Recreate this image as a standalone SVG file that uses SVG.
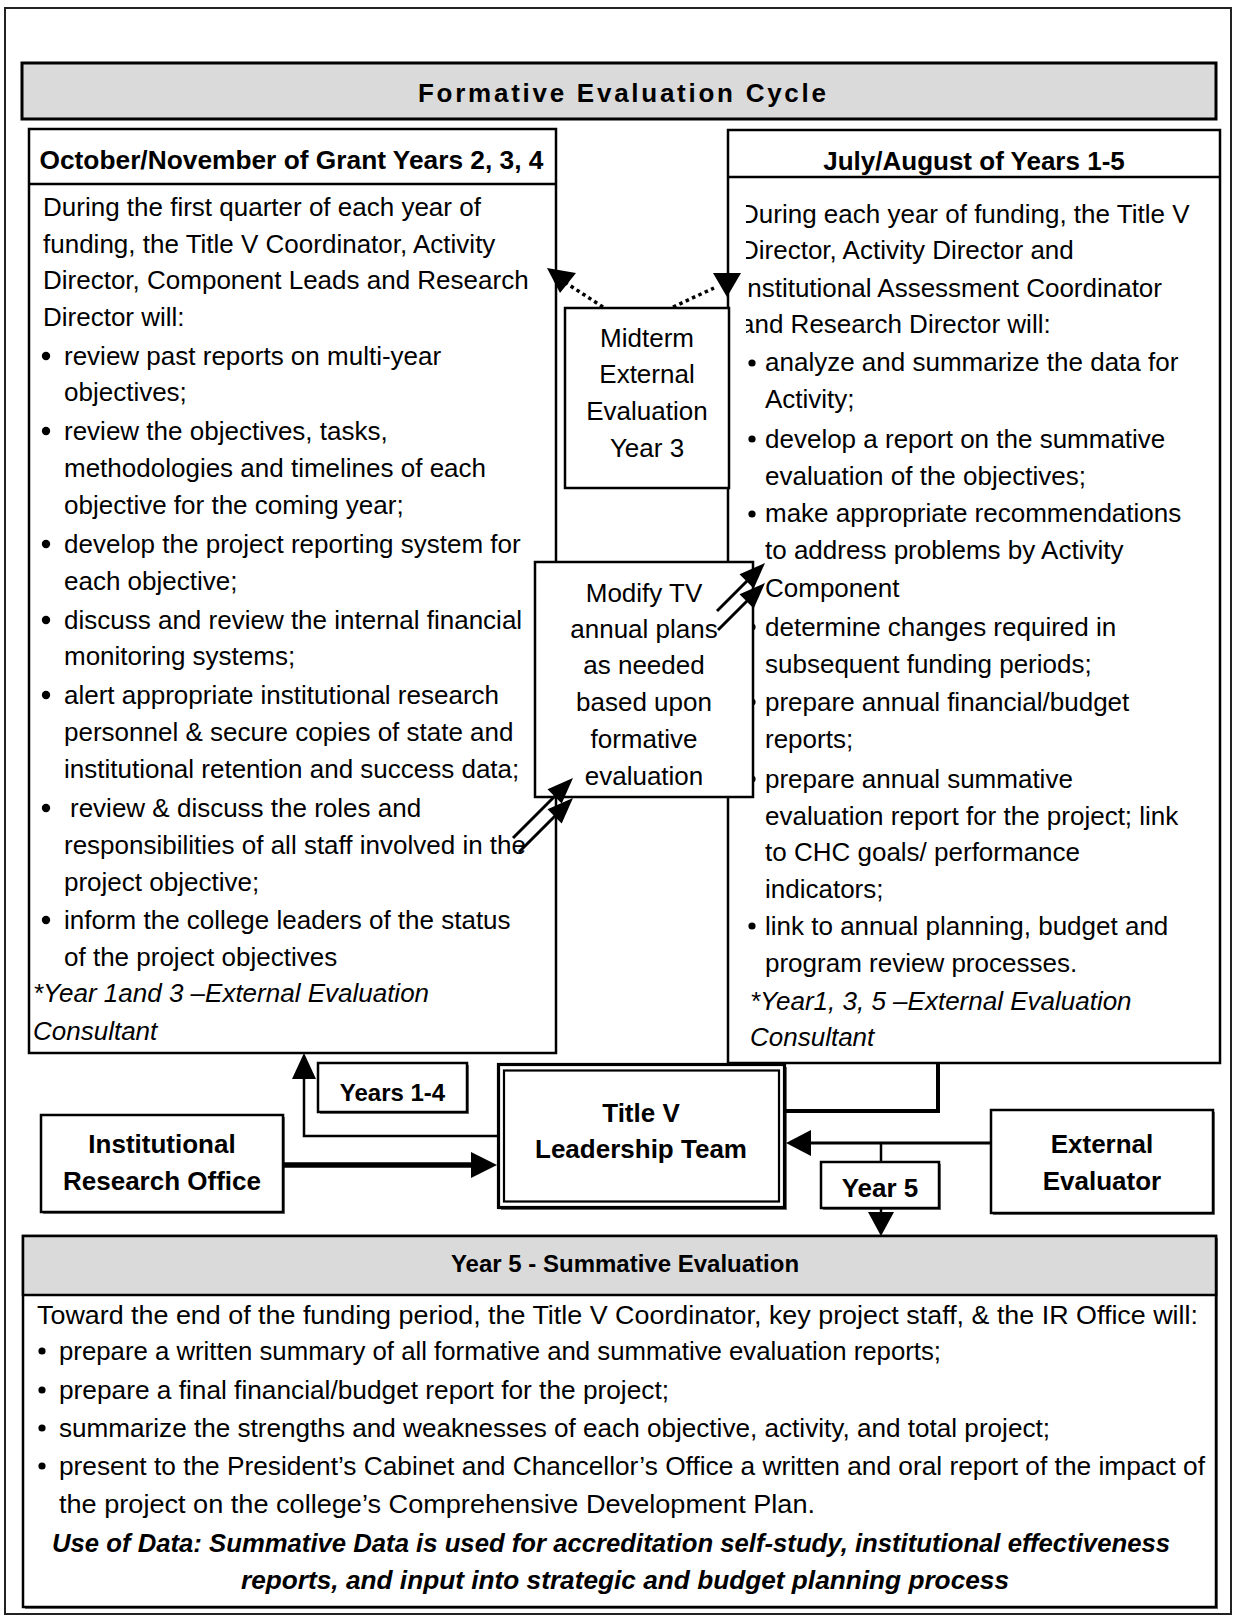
<svg xmlns="http://www.w3.org/2000/svg" width="1236" height="1619" viewBox="0 0 1236 1619">
<style>
.t{font-family:"Liberation Sans",Arial,Helvetica,sans-serif;font-size:26px;fill:#000}
.b{font-weight:bold}
.i{font-style:italic}
.c{text-anchor:middle}
.box{fill:#fff;stroke:#000;stroke-width:2.5}
.gray{fill:#dadada;stroke:#000;stroke-width:3}
.sh{fill:#777}
.ln{fill:none;stroke:#000;stroke-width:2.5}
.dot{fill:none;stroke:#000;stroke-width:3.5;stroke-dasharray:3.5 3.5}
.ah{fill:#000;stroke:none}
</style>
<defs>
<clipPath id="rclip"><rect x="746" y="178" width="472" height="884"/></clipPath>
</defs>
<rect x="5" y="8" width="1226" height="1606" fill="#fff" stroke="#222" stroke-width="2"/>

<g id="title">
<rect class="gray" x="22" y="63" width="1194" height="56"/>
<text class="t b" x="418" y="102" textLength="408" lengthAdjust="spacing">Formative Evaluation Cycle</text>
</g>

<g id="left-box">
<rect class="box" x="29" y="129" width="527" height="924"/>
<line class="ln" x1="29" y1="184" x2="556" y2="184"/>
<text class="t b" x="39.5" y="169" textLength="504" lengthAdjust="spacingAndGlyphs">October/November of Grant Years 2, 3, 4</text>
<text class="t" x="43" y="215.5">During the first quarter of each year of</text>
<text class="t" x="43" y="252.7">funding, the Title V Coordinator, Activity</text>
<text class="t" x="43" y="288.8">Director, Component Leads and Research</text>
<text class="t" x="43" y="326">Director will:</text>
<circle cx="46" cy="356" r="4.2"/>
<text class="t" x="64" y="365">review past reports on multi-year</text>
<text class="t" x="64" y="401.4">objectives;</text>
<circle cx="46" cy="431" r="4.2"/>
<text class="t" x="64" y="439.6">review the objectives, tasks,</text>
<text class="t" x="64" y="476.8">methodologies and timelines of each</text>
<text class="t" x="64" y="514">objective for the coming year;</text>
<circle cx="46" cy="544" r="4.2"/>
<text class="t" x="64" y="553">develop the project reporting system for</text>
<text class="t" x="64" y="590.4">each objective;</text>
<circle cx="46" cy="620" r="4.2"/>
<text class="t" x="64" y="628.6">discuss and review the internal financial</text>
<text class="t" x="64" y="664.7">monitoring systems;</text>
<circle cx="46" cy="695" r="4.2"/>
<text class="t" x="64" y="704">alert appropriate institutional research</text>
<text class="t" x="64" y="741">personnel &amp; secure copies of state and</text>
<text class="t" x="64" y="778">institutional retention and success data;</text>
<circle cx="46" cy="808" r="4.2"/>
<text class="t" x="70" y="816.5">review &amp; discuss the roles and</text>
<text class="t" x="64" y="853.7">responsibilities of all staff involved in the</text>
<text class="t" x="64" y="891">project objective;</text>
<circle cx="46" cy="920" r="4.2"/>
<text class="t" x="64" y="929">inform the college leaders of the status</text>
<text class="t" x="64" y="966">of the project objectives</text>
<text class="t i" x="33" y="1002">*Year 1and 3 –External Evaluation</text>
<text class="t i" x="33" y="1039.5">Consultant</text>
</g>

<g id="right-box">
<rect class="box" x="728" y="130" width="492" height="933"/>
<text class="t b c" x="974" y="170">July/August of Years 1-5</text>
<line class="ln" x1="728" y1="177" x2="1220" y2="177"/>
<g clip-path="url(#rclip)">
<text class="t" x="740" y="222.7">During each year of funding, the Title V</text>
<text class="t" x="740" y="258.9">Director, Activity Director and</text>
<text class="t" x="740" y="297">Institutional Assessment Coordinator</text>
<text class="t" x="740" y="333">and Research Director will:</text>
<circle cx="752" cy="363" r="3.6"/>
<text class="t" x="765" y="371.4">analyze and summarize the data for</text>
<text class="t" x="765" y="407.6">Activity;</text>
<circle cx="752" cy="439" r="3.6"/>
<text class="t" x="765" y="447.9">develop a report on the summative</text>
<text class="t" x="765" y="485">evaluation of the objectives;</text>
<circle cx="752" cy="514" r="3.6"/>
<text class="t" x="765" y="522.2">make appropriate recommendations</text>
<text class="t" x="765" y="559.4">to address problems by Activity</text>
<text class="t" x="765" y="596.5">Component</text>
<circle cx="752" cy="627" r="3.6"/>
<text class="t" x="765" y="635.8">determine changes required in</text>
<text class="t" x="765" y="673">subsequent funding periods;</text>
<circle cx="752" cy="702" r="3.6"/>
<text class="t" x="765" y="711.2">prepare annual financial/budget</text>
<text class="t" x="765" y="748.3">reports;</text>
<circle cx="752" cy="779" r="3.6"/>
<text class="t" x="765" y="787.6">prepare annual summative</text>
<text class="t" x="765" y="824.8">evaluation report for the project; link</text>
<text class="t" x="765" y="860.9">to CHC goals/ performance</text>
<text class="t" x="765" y="898">indicators;</text>
<circle cx="752" cy="926" r="3.6"/>
<text class="t" x="765" y="935.2">link to annual planning, budget and</text>
<text class="t" x="765" y="972.4">program review processes.</text>
<text class="t i" x="750" y="1009.6">*Year1, 3, 5 –External Evaluation</text>
<text class="t i" x="750" y="1045.7">Consultant</text>
</g>
</g>

<g id="midterm">
<rect class="box" x="565" y="308" width="164" height="180"/>
<text class="t c" x="647" y="347">Midterm</text>
<text class="t c" x="647" y="383">External</text>
<text class="t c" x="647" y="420">Evaluation</text>
<text class="t c" x="647" y="457">Year 3</text>
</g>

<g id="modify">
<rect class="box" x="535" y="562" width="218" height="235"/>
<text class="t c" x="644" y="602">Modify TV</text>
<text class="t c" x="644" y="638">annual plans</text>
<text class="t c" x="644" y="674">as needed</text>
<text class="t c" x="644" y="711">based upon</text>
<text class="t c" x="644" y="748">formative</text>
<text class="t c" x="644" y="785">evaluation</text>
</g>

<g id="years14">
<rect class="sh" x="320" y="1065" width="149" height="49"/>
<rect class="box" x="318" y="1063" width="149" height="49"/>
<text class="t b c" x="392.5" y="1101" style="font-size:24px">Years 1-4</text>
</g>

<g id="titlev">
<rect class="sh" x="501" y="1067" width="286" height="143"/>
<rect fill="#fff" stroke="#000" stroke-width="3.2" x="498.5" y="1064.5" width="286" height="143"/>
<rect fill="none" stroke="#000" stroke-width="2.2" x="504" y="1070.5" width="275" height="131"/>
<text class="t b c" x="641" y="1122">Title V</text>
<text class="t b c" x="641" y="1158">Leadership Team</text>
</g>

<g id="iro">
<rect class="sh" x="43" y="1117" width="242" height="97"/>
<rect class="box" x="41" y="1115" width="242" height="97"/>
<text class="t b c" x="162" y="1153">Institutional</text>
<text class="t b c" x="162" y="1190">Research Office</text>
</g>

<g id="external">
<rect class="sh" x="993" y="1112" width="222" height="103"/>
<rect class="box" x="991" y="1110" width="222" height="103"/>
<text class="t b c" x="1102" y="1153">External</text>
<text class="t b c" x="1102" y="1190">Evaluator</text>
</g>

<g id="year5">
<rect class="sh" x="823" y="1164" width="118" height="46"/>
<rect class="box" x="821" y="1162" width="118" height="46"/>
<text class="t b c" x="880" y="1197">Year 5</text>
</g>

<g id="summative">
<rect class="sh" x="25" y="1238" width="1193" height="371"/>
<rect class="box" x="23" y="1236" width="1193" height="371"/>
<rect fill="#dadada" stroke="#000" stroke-width="2.5" x="23" y="1236" width="1193" height="59"/>
<text class="t b c" x="625" y="1272" style="font-size:24px">Year 5 - Summative Evaluation</text>
<text class="t" x="37" y="1323.5" textLength="1161" lengthAdjust="spacingAndGlyphs">Toward the end of the funding period, the Title V Coordinator, key project staff, &amp; the IR Office will:</text>
<circle cx="42" cy="1351" r="3.6"/>
<text class="t" x="59" y="1359.6" textLength="882" lengthAdjust="spacingAndGlyphs">prepare a written summary of all formative and summative evaluation reports;</text>
<circle cx="42" cy="1390" r="3.6"/>
<text class="t" x="59" y="1399" textLength="610" lengthAdjust="spacingAndGlyphs">prepare a final financial/budget report for the project;</text>
<circle cx="42" cy="1428" r="3.6"/>
<text class="t" x="59" y="1437" textLength="991" lengthAdjust="spacingAndGlyphs">summarize the strengths and weaknesses of each objective, activity, and total project;</text>
<circle cx="42" cy="1466" r="3.6"/>
<text class="t" x="59" y="1475" textLength="1146" lengthAdjust="spacingAndGlyphs">present to the President’s Cabinet and Chancellor’s Office a written and oral report of the impact of</text>
<text class="t" x="59" y="1512.5" textLength="756" lengthAdjust="spacingAndGlyphs">the project on the college’s Comprehensive Development Plan.</text>
<text class="t b i" x="52" y="1551.7" style="font-size:25px" textLength="1118" lengthAdjust="spacingAndGlyphs">Use of Data: Summative Data is used for accreditation self-study, institutional effectiveness</text>
<text class="t b i" x="241" y="1589" style="font-size:25px" textLength="768" lengthAdjust="spacingAndGlyphs">reports, and input into strategic and budget planning process</text>
</g>

<g id="connectors">
<line class="dot" x1="603" y1="307" x2="566" y2="283"/>
<polygon class="ah" points="547,268 576,273 560,293"/>
<line class="dot" x1="673" y1="307" x2="714" y2="288"/>
<polygon class="ah" points="713,273 741,273 727,297"/>
<line stroke="#000" stroke-width="3" x1="513" y1="838" x2="556" y2="795"/>
<polygon class="ah" points="573,778 561.7,803.5 547.5,789.3"/>
<line stroke="#000" stroke-width="3" x1="519" y1="852" x2="556" y2="815"/>
<polygon class="ah" points="573,798 561.7,823.5 547.5,809.3"/>
<line stroke="#000" stroke-width="3" x1="717" y1="611" x2="748" y2="580"/>
<polygon class="ah" points="765,563 753.7,588.5 739.5,574.3"/>
<line stroke="#000" stroke-width="3" x1="718" y1="630" x2="748" y2="600"/>
<polygon class="ah" points="765,583 753.7,608.5 739.5,594.3"/>
<polyline class="ln" points="497,1136 304,1136 304,1076"/>
<polygon class="ah" points="304,1053 292,1079 316,1079"/>
<line stroke="#000" stroke-width="5.5" x1="283" y1="1165" x2="473" y2="1165"/>
<polygon class="ah" points="471,1152 497,1165 471,1178"/>
<line stroke="#000" stroke-width="3" x1="991" y1="1143" x2="809" y2="1143"/>
<polygon class="ah" points="786,1143 811,1130 811,1156"/>
<line class="ln" x1="881" y1="1143" x2="881" y2="1162"/>
<line class="ln" x1="881" y1="1208" x2="881" y2="1214"/>
<polygon class="ah" points="868,1212 894,1212 881,1236"/>
<polyline fill="none" stroke="#000" stroke-width="4" points="938,1063 938,1111 786,1111"/>
</g>
</svg>
